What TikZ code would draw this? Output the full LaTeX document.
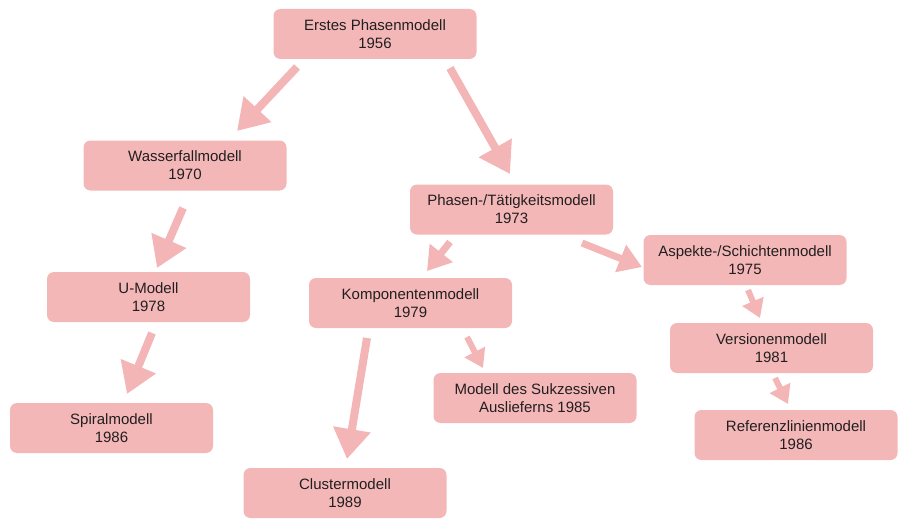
\documentclass[tikz,border=0pt]{standalone}
\usepackage{fontspec}
\setmainfont{Liberation Sans}
\usetikzlibrary{arrows.meta}
\definecolor{boxpink}{RGB}{244,183,184}
\definecolor{arrowpink}{RGB}{243,181,182}
\definecolor{txt}{RGB}{34,30,32}
\tikzset{
  modelbox/.style={fill=boxpink, draw=none, rounded corners=7pt, minimum width=203pt, minimum height=50pt, align=center, inner sep=0pt, text=txt, font=\fontsize{15}{18}\selectfont},
  bigarrow/.style={draw=arrowpink, line width=8pt, -{Triangle[width=36pt,length=30pt]}},
  midarrow/.style={draw=arrowpink, line width=7pt, -{Triangle[width=28pt,length=23pt]}},
  smallarrow/.style={draw=arrowpink, line width=6pt, -{Triangle[width=22pt,length=18pt]}}
}
\begin{document}
\begin{tikzpicture}[x=1pt,y=-1pt]
\useasboundingbox[fill=white] (0,0) rectangle (898,519);
% boxes
\node[modelbox] (E) at (375,34) {Erstes Phasenmodell\\1956};
\node[modelbox] (W) at (185,165.5) {Wasserfallmodell\\1970};
\node[modelbox] (P) at (511.5,209.5) {Phasen-/Tätigkeitsmodell\\1973};
\node[modelbox] (A) at (745,260) {Aspekte-/Schichtenmodell\\1975};
\node[modelbox] (U) at (148.5,297) {U-Modell\\1978};
\node[modelbox] (K) at (410.5,303) {Komponentenmodell\\1979};
\node[modelbox] (V) at (771.5,348) {Versionenmodell\\1981};
\node[modelbox] (S) at (535,398) {Modell des Sukzessiven\\Auslieferns 1985};
\node[modelbox] (R) at (796,435) {Referenzlinienmodell\\1986};
\node[modelbox] (SP) at (111.5,428) {Spiralmodell\\1986};
\node[modelbox] (C) at (345,493) {Clustermodell\\1989};
% arrow end points
\coordinate (e1) at (297,67);   \coordinate (w1) at (237,131);
\coordinate (e2) at (450,68);   \coordinate (p1) at (510,174);
\coordinate (w2) at (183,208);  \coordinate (u1) at (157,268);
\coordinate (u2) at (152,333);  \coordinate (s1) at (127,394);
\coordinate (p2) at (450,242);  \coordinate (k1) at (427,271);
\coordinate (p3) at (582,243);  \coordinate (a1) at (642,267);
\coordinate (k2) at (367,338);  \coordinate (c1) at (347,459);
\coordinate (k3) at (467,337);  \coordinate (sk1) at (483,368);
\coordinate (a2) at (748,290);  \coordinate (v1) at (760,318);
\coordinate (v2) at (775,378);  \coordinate (r1) at (788,404);
% arrows
\draw[bigarrow] (e1) -- (w1);
\draw[bigarrow] (e2) -- (p1);
\draw[bigarrow] (w2) -- (u1);
\draw[bigarrow] (u2) -- (s1);
\draw[midarrow] (p2) -- (k1);
\draw[midarrow] (p3) -- (a1);
\draw[bigarrow] (k2) -- (c1);
\draw[smallarrow] (k3) -- (sk1);
\draw[smallarrow] (a2) -- (v1);
\draw[smallarrow] (v2) -- (r1);
\end{tikzpicture}
\end{document}
